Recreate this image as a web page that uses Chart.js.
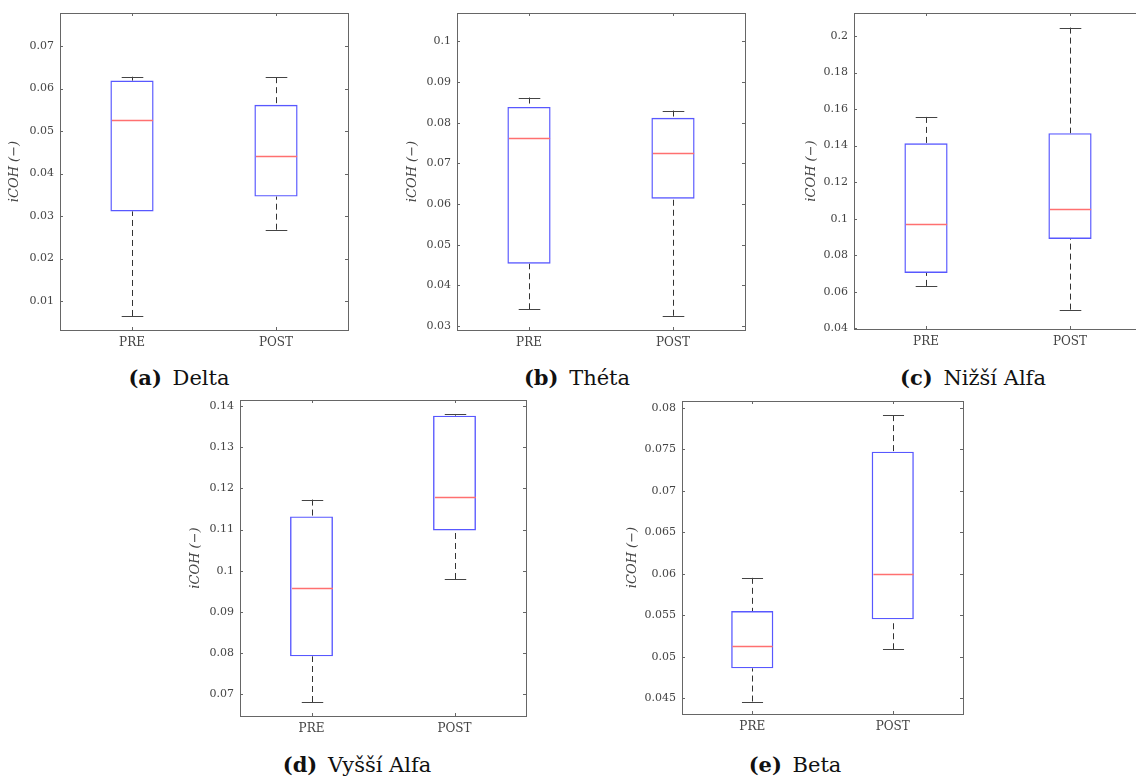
<!DOCTYPE html>
<html><head><meta charset="utf-8">
<script src="https://cdn.jsdelivr.net/npm/chart.js@4.4.1/dist/chart.umd.min.js"></script>
<style>
html,body{margin:0;padding:0;background:#fff;}
body{width:1136px;height:778px;overflow:hidden;position:relative;}
canvas{position:absolute;}
.cap{position:absolute;width:320px;text-align:center;font-family:"DejaVu Serif",serif;font-size:21px;line-height:21px;color:#111;white-space:nowrap;}
.cap b{margin-right:4px;}
</style></head><body>
<script>
// ---- data ----
const categories = ['PRE', 'POST'];

const deltaLow  = [0.0065, 0.0268];
const deltaQ1   = [0.0311, 0.0346];
const deltaMed  = [0.0527, 0.0442];
const deltaQ3   = [0.0619, 0.0562];
const deltaHigh = [0.0628, 0.0627];
const deltaTicks = [0.01, 0.02, 0.03, 0.04, 0.05, 0.06, 0.07];

const thetaLow  = [0.0341, 0.0325];
const thetaQ1   = [0.0453, 0.0613];
const thetaMed  = [0.0762, 0.0726];
const thetaQ3   = [0.0839, 0.0812];
const thetaHigh = [0.0862, 0.0830];
const thetaTicks = [0.03, 0.04, 0.05, 0.06, 0.07, 0.08, 0.09, 0.1];

const lowAlphaLow  = [0.0632, 0.0502];
const lowAlphaQ1   = [0.0703, 0.0889];
const lowAlphaMed  = [0.0971, 0.1051];
const lowAlphaQ3   = [0.1413, 0.1468];
const lowAlphaHigh = [0.1557, 0.2046];
const lowAlphaTicks = [0.04, 0.06, 0.08, 0.1, 0.12, 0.14, 0.16, 0.18, 0.2];

const highAlphaLow  = [0.0681, 0.0980];
const highAlphaQ1   = [0.0792, 0.1098];
const highAlphaMed  = [0.0958, 0.1179];
const highAlphaQ3   = [0.1132, 0.1377];
const highAlphaHigh = [0.1173, 0.1381];
const highAlphaTicks = [0.07, 0.08, 0.09, 0.1, 0.11, 0.12, 0.13, 0.14];

const betaLow  = [0.0446, 0.0509];
const betaQ1   = [0.0486, 0.0545];
const betaMed  = [0.0513, 0.0600];
const betaQ3   = [0.0555, 0.0747];
const betaHigh = [0.0595, 0.0791];
const betaTicks = [0.045, 0.05, 0.055, 0.06, 0.065, 0.07, 0.075, 0.08];

const deltaRange = [0.0032, 0.0778];
const thetaRange = [0.029, 0.107];
const lowAlphaRange = [0.0396, 0.2126];
const highAlphaRange = [0.0647, 0.1415];
const betaRange = [0.0431, 0.0808];

const yTitle = 'iCOH (−)';

// ---- layout ----
const panels = [
  {tag:'(a)', name:'Delta', low:deltaLow, q1:deltaQ1, med:deltaMed, q3:deltaQ3, high:deltaHigh, ticks:deltaTicks, range:deltaRange,
   rect:[60,13,348,330], tpad:7.2, cap:[179,385]},
  {tag:'(b)', name:'Théta', low:thetaLow, q1:thetaQ1, med:thetaMed, q3:thetaQ3, high:thetaHigh, ticks:thetaTicks, range:thetaRange,
   rect:[457,13,745,330], tpad:8.2, cap:[577,385]},
  {tag:'(c)', name:'Nižší Alfa', low:lowAlphaLow, q1:lowAlphaQ1, med:lowAlphaMed, q3:lowAlphaQ3, high:lowAlphaHigh, ticks:lowAlphaTicks, range:lowAlphaRange,
   rect:[854,13,1142,329], tpad:9.6, cap:[973,385]},
  {tag:'(d)', name:'Vyšší Alfa', low:highAlphaLow, q1:highAlphaQ1, med:highAlphaMed, q3:highAlphaQ3, high:highAlphaHigh, ticks:highAlphaTicks, range:highAlphaRange,
   rect:[240,400,526,716], tpad:7.6, cap:[357,772]},
  {tag:'(e)', name:'Beta', low:betaLow, q1:betaQ1, med:betaMed, q3:betaQ3, high:betaHigh, ticks:betaTicks, range:betaRange,
   rect:[682,401,963,714], tpad:3.2, cap:[795,772]}
];

const fmt = v => String(parseFloat(v.toFixed(4)));
const TOPM = 18;

function makeBoxPlugin(p) {
  return {
    id: 'boxExtras',
    afterDatasetsDraw(chart) {
      const ctx = chart.ctx, xs = chart.scales.x, ys = chart.scales.y, a = chart.chartArea;
      const catW = xs.getPixelForValue(1) - xs.getPixelForValue(0);
      const boxW = catW * 0.3, capW = boxW / 2;
      ctx.save();
      for (let i = 0; i < categories.length; i++) {
        const cx = Math.round(xs.getPixelForValue(i)) + 0.5;
        // dashed whiskers
        ctx.setLineDash([6, 4]);
        ctx.strokeStyle = '#333';
        ctx.lineWidth = 1;
        ctx.beginPath();
        ctx.moveTo(cx, ys.getPixelForValue(p.high[i]));
        ctx.lineTo(cx, ys.getPixelForValue(p.q3[i]));
        ctx.moveTo(cx, ys.getPixelForValue(p.low[i]));
        ctx.lineTo(cx, ys.getPixelForValue(p.q1[i]));
        ctx.stroke();
        // caps
        ctx.setLineDash([]);
        ctx.strokeStyle = '#444';
        ctx.lineWidth = 1.2;
        ctx.beginPath();
        const yh = Math.round(ys.getPixelForValue(p.high[i])) + 0.5;
        const yl = Math.round(ys.getPixelForValue(p.low[i])) + 0.5;
        ctx.moveTo(cx - capW / 2, yh); ctx.lineTo(cx + capW / 2, yh);
        ctx.moveTo(cx - capW / 2, yl); ctx.lineTo(cx + capW / 2, yl);
        ctx.stroke();
        // median
        ctx.strokeStyle = '#ff7070';
        ctx.lineWidth = 1.4;
        const ym = Math.round(ys.getPixelForValue(p.med[i])) + 0.5;
        ctx.beginPath();
        ctx.moveTo(cx - boxW / 2 + 1, ym); ctx.lineTo(cx + boxW / 2 - 1, ym);
        ctx.stroke();
      }
      // frame
      ctx.strokeStyle = '#666';
      ctx.lineWidth = 1;
      ctx.strokeRect(Math.round(a.left) + 0.5, Math.round(a.top) + 0.5, Math.round(a.right - a.left), Math.round(a.bottom - a.top));
      // inward ticks
      ctx.beginPath();
      for (const t of p.ticks) {
        const ty = Math.round(ys.getPixelForValue(t)) + 0.5;
        ctx.moveTo(a.left, ty); ctx.lineTo(a.left + 3, ty);
        ctx.moveTo(a.right, ty); ctx.lineTo(a.right - 3, ty);
      }
      for (let i = 0; i < categories.length; i++) {
        const tx = Math.round(xs.getPixelForValue(i)) + 0.5;
        ctx.moveTo(tx, a.top); ctx.lineTo(tx, a.top + 3);
        ctx.moveTo(tx, a.bottom); ctx.lineTo(tx, a.bottom - 3);
      }
      ctx.stroke();
      ctx.restore();
    }
  };
}

panels.forEach(p => {
  const [L, T, R, B] = p.rect;
  const cv = document.createElement('canvas');
  const W = R - L + 70, H = B - T + TOPM + 30;
  cv.width = W; cv.height = H;
  cv.style.left = (L - 60) + 'px';
  cv.style.top = (T - TOPM) + 'px';
  cv.style.width = W + 'px'; cv.style.height = H + 'px';
  document.body.appendChild(cv);

  const ch = new Chart(cv, {
    type: 'bar',
    data: {
      labels: categories,
      datasets: [{
        data: p.q1.map((v, i) => [v, p.q3[i]]),
        backgroundColor: 'rgba(0,0,0,0)',
        borderColor: 'rgba(70,70,255,0.9)',
        borderWidth: 1.4,
        borderSkipped: false,
        barPercentage: 0.3,
        categoryPercentage: 1
      }]
    },
    options: {
      responsive: false,
      animation: false,
      events: [],
      layout: {padding: {left: 0, top: TOPM, right: 10, bottom: 0}},
      plugins: {legend: {display: false}, tooltip: {enabled: false}},
      scales: {
        x: {
          offset: true,
          grid: {display: false, drawTicks: false},
          border: {display: false},
          ticks: {padding: 6, color: '#444', font: {family: 'DejaVu Serif', size: 12}},
          afterFit(s) { s.height = 30; }
        },
        y: {
          type: 'linear',
          min: p.range[0], max: p.range[1],
          grid: {display: false, drawTicks: false},
          border: {display: false},
          afterBuildTicks(s) { s.ticks = p.ticks.map(v => ({value: v})); },
          ticks: {padding: 6, color: '#444', font: {family: 'DejaVu Serif', size: 11}, callback: v => fmt(v)},
          title: {display: true, text: yTitle, color: '#444',
                  font: {family: 'DejaVu Serif', style: 'italic', size: 13},
                  padding: {top: p.tpad, bottom: 0}},
          afterFit(s) { s.width = 60; }
        }
      }
    },
    plugins: [makeBoxPlugin(p)]
  });
  // align the chart area exactly to the target rectangle
  const ca = ch.chartArea;
  cv.style.left = (L - ca.left) + 'px';
  cv.style.top = (T - ca.top) + 'px';

  const cap = document.createElement('div');
  cap.className = 'cap';
  cap.style.left = (p.cap[0] - 160) + 'px';
  cap.style.top = (p.cap[1] - 18) + 'px';
  const b = document.createElement('b');
  b.textContent = p.tag;
  cap.appendChild(b);
  cap.appendChild(document.createTextNode(' ' + p.name));
  document.body.appendChild(cap);
});
</script>
</body></html>
